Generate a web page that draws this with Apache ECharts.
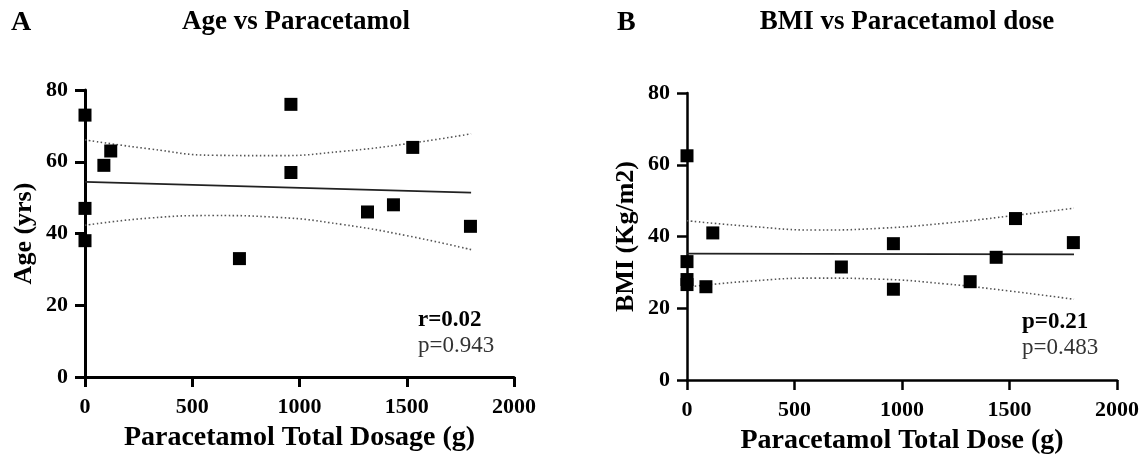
<!DOCTYPE html>
<html>
<head>
<meta charset="utf-8">
<script src="https://cdn.jsdelivr.net/npm/echarts@6/dist/echarts.min.js"></script>
<style>html,body{margin:0;padding:0;background:#fff}#c{width:1146px;height:463px}</style>
</head>
<body>
<div id="c"></div>
<script>
// ---- data ----
const xTicks = [0, 500, 1000, 1500, 2000];
const yTicks = [0, 20, 40, 60, 80];

const doseA = [0, 0, 0, 88, 120, 720, 960, 960, 1317, 1438, 1528, 1797];
const age   = [73, 47, 38, 59, 63, 33, 76, 57, 46, 48, 64, 42];

const doseB = [0, 0, 0, 0, 88, 120, 718, 960, 960, 1317, 1438, 1528, 1797];
const bmi   = [62.5, 33, 28, 26.6, 26, 41, 31.5, 38, 25.3, 27.4, 34.2, 45, 38.3];

const fitX = [0, 1800];
const fitA = [54.4, 51.4];
const fitB = [35.2, 35.0];

const ciX = [0, 300, 600, 900, 1200, 1500, 1800];
const ciUpperA = [66.1, 63.6, 61.8, 61.7, 62.9, 65.0, 67.8];
const ciLowerA = [42.3, 44.3, 45.0, 44.5, 42.5, 39.4, 35.5];
const ciUpperB = [44.4, 42.8, 41.8, 42.3, 43.7, 45.7, 47.9];
const ciLowerB = [25.9, 27.6, 28.4, 28.1, 26.8, 24.8, 22.5];

// ---- chart ----
const SERIF = "'Liberation Serif','Times New Roman',serif";
const zip = (xs, ys) => xs.map((x, i) => [x, ys[i]]);

function xAxis(gi, name, lw) {
  return {
    gridIndex: gi, type: 'value', min: xTicks[0], max: xTicks[xTicks.length - 1],
    interval: xTicks[1] - xTicks[0],
    name: name, nameLocation: 'middle', nameGap: 47,
    nameTextStyle: { fontFamily: SERIF, fontWeight: 'bold', fontSize: 28, color: '#000' },
    axisLine: { show: true, lineStyle: { color: '#000', width: lw } },
    axisTick: { show: true, length: 10, lineStyle: { color: '#000', width: lw } },
    axisLabel: { fontFamily: SERIF, fontWeight: 'bold', fontSize: 22, color: '#000', margin: 19,
      formatter: v => String(v) },
    splitLine: { show: false }
  };
}
function yAxis(gi, name, lw) {
  return {
    gridIndex: gi, type: 'value', min: yTicks[0], max: yTicks[yTicks.length - 1],
    interval: yTicks[1] - yTicks[0],
    name: name, nameLocation: 'middle', nameGap: 48, nameRotate: 90,
    nameTextStyle: { fontFamily: SERIF, fontWeight: 'bold', fontSize: 26, color: '#000' },
    axisLine: { show: true, lineStyle: { color: '#000', width: lw } },
    axisTick: { show: true, length: 10, lineStyle: { color: '#000', width: lw } },
    axisLabel: { fontFamily: SERIF, fontWeight: 'bold', fontSize: 22, color: '#000', margin: 17,
      formatter: v => String(v) },
    splitLine: { show: false }
  };
}
function scatter(gi, xs, ys) {
  return { type: 'scatter', xAxisIndex: gi, yAxisIndex: gi, data: zip(xs, ys),
    symbol: 'rect', symbolSize: 13, itemStyle: { color: '#000', opacity: 1 }, z: 5, silent: true };
}
function line(gi, xs, ys, dotted) {
  return { type: 'line', xAxisIndex: gi, yAxisIndex: gi, data: zip(xs, ys),
    smooth: dotted ? 0.5 : false, showSymbol: false, symbol: 'none', silent: true,
    lineStyle: dotted ? { color: '#555', width: 1.6, type: [1.5, 2.5] } : { color: '#222', width: 1.8 },
    z: 3 };
}
function txt(x, y, s, bold, size, align) {
  return { type: 'text', x: x, y: y, silent: true,
    style: { text: s, fontFamily: SERIF, fontWeight: bold ? 'bold' : 'normal', fontSize: size,
      fill: bold ? '#000' : '#333', textAlign: align || 'left', textVerticalAlign: 'middle' } };
}

const chart = echarts.init(document.getElementById('c'), null, { renderer: 'canvas' });
chart.setOption({
  animation: false,
  backgroundColor: '#fff',
  grid: [
    { left: 85, top: 90, width: 429, height: 287 },
    { left: 687, top: 93, width: 430, height: 287 }
  ],
  xAxis: [xAxis(0, 'Paracetamol Total Dosage (g)', 3), xAxis(1, 'Paracetamol Total Dose (g)', 2.5)],
  yAxis: [yAxis(0, 'Age (yrs)', 3), yAxis(1, 'BMI (Kg/m2)', 2.5)],
  series: [
    line(0, ciX, ciUpperA, true), line(0, ciX, ciLowerA, true), line(0, fitX, fitA, false),
    scatter(0, doseA, age),
    line(1, ciX, ciUpperB, true), line(1, ciX, ciLowerB, true), line(1, fitX, fitB, false),
    scatter(1, doseB, bmi)
  ],
  graphic: [
    txt(11, 23, 'A', true, 28),
    txt(296, 22, 'Age vs Paracetamol', true, 27, 'center'),
    txt(617, 23, 'B', true, 28),
    txt(907, 22, 'BMI vs Paracetamol dose', true, 27, 'center'),
    txt(418, 320, 'r=0.02', true, 23),
    txt(418, 346, 'p=0.943', false, 23),
    txt(1022, 322, 'p=0.21', true, 23),
    txt(1022, 348, 'p=0.483', false, 23)
  ]
});
</script>
</body>
</html>
